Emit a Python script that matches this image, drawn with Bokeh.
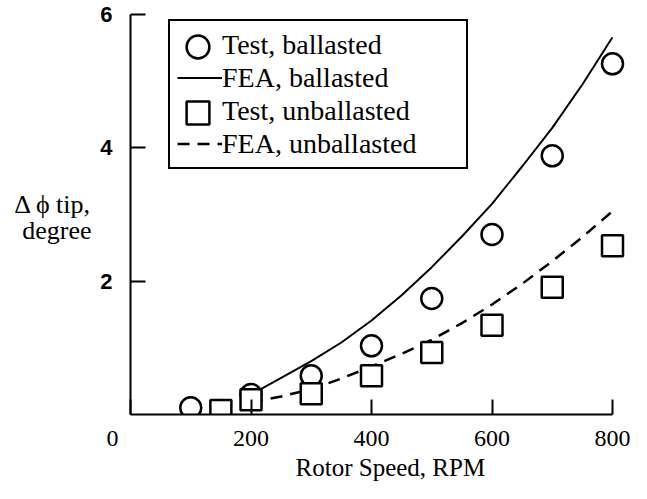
from bokeh.plotting import figure
from bokeh.models import Range1d, FixedTicker, Legend, LegendItem, LinearAxis
from bokeh.embed import file_html
from bokeh.resources import INLINE

# Test data, ballasted rotor
test_ballasted_rpm = [100, 200, 300, 400, 500, 600, 700, 800]
test_ballasted_phi = [0.10, 0.30, 0.58, 1.03, 1.74, 2.70, 3.88, 5.26]

# Test data, unballasted rotor
test_unballasted_rpm = [150, 200, 300, 400, 500, 600, 700, 800]
test_unballasted_phi = [0.06, 0.22, 0.31, 0.58, 0.93, 1.34, 1.91, 2.53]

# FEA predictions
fea_rpm = [200, 250, 300, 350, 400, 450, 500, 550, 600, 650, 700, 750, 800]
fea_ballasted_phi = [0.30, 0.55, 0.80, 1.08, 1.41, 1.79, 2.21, 2.67, 3.16, 3.72, 4.30, 4.95, 5.66]
fea_unballasted_phi = [0.18, 0.27, 0.38, 0.54, 0.72, 0.91, 1.12, 1.37, 1.65, 1.96, 2.30, 2.66, 3.05]

x_ticks = [0, 200, 400, 600, 800]
x_tick_labels = {0: "0" + "\u00a0" * 6}
y_ticks = [2, 4, 6]
y_title_lines = ["\u0394 \u03d5 tip,", "degree"]
x_title = "Rotor Speed, RPM"

SERIF = "Liberation Serif"
SANS = "Liberation Sans"

W, H = 631, 483
L, T, BOTTOM = 130, 14, 69
B = H - BOTTOM
X800 = 612
p = figure(width=W, height=H, x_range=Range1d(0, 800 * (W - L) / (X800 - L)), y_range=Range1d(0, 6),
           output_backend="svg", toolbar_location=None,
           min_border_left=L, min_border_right=0, min_border_top=T, min_border_bottom=BOTTOM)
p.outline_line_color = None
p.xgrid.visible = False
p.ygrid.visible = False
p.background_fill_color = "white"
p.border_fill_color = "white"

for ax in (p.xaxis[0], p.yaxis[0]):
    ax.axis_line_color = "black"
    ax.axis_line_width = 2
    ax.major_tick_line_color = "black"
    ax.major_tick_line_width = 2
    ax.major_tick_in = 15
    ax.major_tick_out = 0
    ax.minor_tick_line_color = None
    ax.major_label_text_color = "black"

p.xaxis.ticker = FixedTicker(ticks=x_ticks)
p.xaxis.major_label_overrides = x_tick_labels
p.xaxis.bounds = (0, 800)
p.xaxis.major_label_text_font = SERIF
p.xaxis.major_label_text_font_size = "24px"
p.xaxis.major_label_standoff = 10
p.xaxis.axis_label = "\u00a0" * 3 + x_title
p.xaxis.axis_label_text_font = SERIF
p.xaxis.axis_label_text_font_size = "25px"
p.xaxis.axis_label_text_font_style = "normal"
p.xaxis.axis_label_text_color = "black"
p.xaxis.axis_label_standoff = 0

p.yaxis.ticker = FixedTicker(ticks=y_ticks)
p.yaxis.bounds = (0, 6)
p.yaxis.major_label_text_font = SANS
p.yaxis.major_label_text_font_size = "22px"
p.yaxis.major_label_text_font_style = "bold"
p.yaxis.major_label_standoff = 18

# horizontal two-line y title, drawn as labels of a bare extra axis
scale_y = (B - T) / 6.0
title_pos = [(B - 204) / scale_y, (B - 230) / scale_y]
title_axis = LinearAxis(ticker=FixedTicker(ticks=title_pos),
                        major_label_overrides={title_pos[0]: y_title_lines[0], title_pos[1]: y_title_lines[1]},
                        axis_line_color=None, major_tick_line_color=None, minor_tick_line_color=None,
                        major_label_standoff=0, major_label_text_font=SERIF,
                        major_label_text_font_size="26px", major_label_text_color="black")
p.add_layout(title_axis, "left")

r_fb = p.line(fea_rpm, fea_ballasted_phi, line_color="black", line_width=2)
r_fu = p.line(fea_rpm, fea_unballasted_phi, line_color="black", line_width=2.5, line_dash="12 8")
r_tb = p.scatter(test_ballasted_rpm, test_ballasted_phi, marker="circle", size=21,
                 fill_color="white", line_color="black", line_width=2.5)
r_tu = p.scatter(test_unballasted_rpm, test_unballasted_phi, marker="square", size=21,
                 fill_color="white", line_color="black", line_width=2.5)

# main legend box
PAD, GH, GW = 7, 33, 45
LEG_LEFT, LEG_TOP, LEG_W = 168, 23, 296
legend = Legend(items=[
    LegendItem(label="Test, ballasted", renderers=[r_tb]),
    LegendItem(label="FEA, ballasted", renderers=[r_fb]),
    LegendItem(label="Test, unballasted", renderers=[r_tu]),
    LegendItem(label="FEA, unballasted", renderers=[r_fu]),
], location=(LEG_LEFT - L, B - LEG_TOP - (2 * PAD + 4 * GH)))
legend.glyph_width = GW
legend.glyph_height = GH
legend.label_width = LEG_W - 2 * PAD - GW
legend.label_height = GH
legend.spacing = 0
legend.padding = PAD
legend.margin = 0
legend.label_standoff = 0
legend.label_text_font = SERIF
legend.label_text_font_size = "28px"
legend.label_text_color = "black"
legend.border_line_color = "black"
legend.border_line_alpha = 1
legend.border_line_width = 2
legend.background_fill_color = "white"
legend.background_fill_alpha = 1
p.add_layout(legend)

# larger legend markers drawn over the small default ones
BIG = 57
for k, r in ((0, r_tb), (2, r_tu)):
    cx = LEG_LEFT + PAD + GW / 2
    cy = LEG_TOP + PAD + GH / 2 + k * GH
    lg = Legend(items=[LegendItem(label=" ", renderers=[r])],
                location=(cx - BIG / 2 - L, B - (cy - BIG / 2) - BIG))
    lg.glyph_width = BIG
    lg.glyph_height = BIG
    lg.label_width = 0
    lg.label_height = BIG
    lg.label_standoff = 0
    lg.padding = 0
    lg.margin = 0
    lg.spacing = 0
    lg.border_line_color = None
    lg.background_fill_alpha = 0
    lg.label_text_font_size = "10px"
    p.add_layout(lg)

open("out.html", "w").write(file_html(p, INLINE))
